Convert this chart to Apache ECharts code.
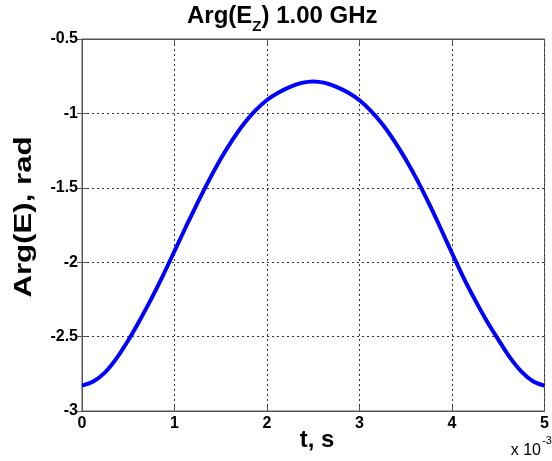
<!DOCTYPE html>
<html>
<head>
<meta charset="utf-8">
<script src="https://cdn.jsdelivr.net/npm/echarts@6/dist/echarts.min.js"></script>
<style>
html,body{margin:0;padding:0;background:#fff;}
#chart{width:552px;height:461px;}
</style>
</head>
<body>
<div id="chart"></div>
<script>
// time in units of 1e-3 s
var tValues = [0, 0.125, 0.25, 0.375, 0.5, 0.625, 0.75, 0.875, 1, 1.125, 1.25, 1.375, 1.5, 1.625, 1.75, 1.875, 2, 2.125, 2.25, 2.375, 2.5,
               2.625, 2.75, 2.875, 3, 3.125, 3.25, 3.375, 3.5, 3.625, 3.75, 3.875, 4, 4.125, 4.25, 4.375, 4.5, 4.625, 4.75, 4.875, 5];
var argValues = [-2.83, -2.80, -2.74, -2.645, -2.525, -2.39, -2.245, -2.09, -1.925, -1.76, -1.60, -1.447, -1.305, -1.18, -1.07, -0.98, -0.91, -0.86, -0.822, -0.795, -0.785,
                 -0.795, -0.822, -0.86, -0.912, -0.985, -1.075, -1.185, -1.31, -1.45, -1.605, -1.77, -1.94, -2.105, -2.255, -2.395, -2.52, -2.64, -2.735, -2.80, -2.83];
var xTicks = [0, 1, 2, 3, 4, 5];
var yTicks = [-3, -2.5, -2, -1.5, -1, -0.5];

var FONT = "'Liberation Sans', Arial, sans-serif";
var chart = echarts.init(document.getElementById('chart'), null, {renderer: 'canvas'});
var seriesData = tValues.map(function (t, i) { return [t, argValues[i]]; });

var axisCommon = {
  type: 'value',
  axisLine: {show: true, lineStyle: {color: '#555', width: 1}},
  axisTick: {show: true, inside: true, length: 5, lineStyle: {color: '#555'}},
  splitLine: {show: false}
};

chart.setOption({
  animation: false,
  backgroundColor: '#fff',
  grid: {left: 82, right: 1, top: 39, bottom: 50, containLabel: false,
         show: true, borderColor: '#555', borderWidth: 1},
  xAxis: [
    Object.assign({}, axisCommon, {
      min: xTicks[0], max: xTicks[xTicks.length - 1], interval: 1, position: 'bottom',
      axisLabel: {show: true, color: '#000', fontFamily: FONT, fontWeight: 'bold', fontSize: 16, margin: 5},
      splitLine: {show: true, lineStyle: {color: '#333', type: [2, 3], width: 1}}
    }),
    Object.assign({}, axisCommon, {
      min: xTicks[0], max: xTicks[xTicks.length - 1], interval: 1, position: 'top',
      axisLabel: {show: false}
    })
  ],
  yAxis: [
    Object.assign({}, axisCommon, {
      min: yTicks[0], max: yTicks[yTicks.length - 1], interval: 0.5, position: 'left',
      axisLabel: {show: true, color: '#000', fontFamily: FONT, fontWeight: 'bold', fontSize: 16, margin: 4},
      splitLine: {show: true, lineStyle: {color: '#333', type: [2, 3], width: 1}}
    }),
    Object.assign({}, axisCommon, {
      min: yTicks[0], max: yTicks[yTicks.length - 1], interval: 0.5, position: 'right',
      axisLabel: {show: false}
    })
  ],
  series: [{
    type: 'line',
    data: seriesData,
    xAxisIndex: 0, yAxisIndex: 0,
    smooth: 0.3,
    showSymbol: false,
    lineStyle: {color: '#0000ff', width: 4},
    itemStyle: {color: '#0000ff'},
    z: 5
  }],
  graphic: [
    {
      type: 'text', left: 187, top: 4,
      style: {
        text: '{m|Arg(E}{s|Z}{m|) 1.00 GHz}',
        rich: {
          m: {fontFamily: FONT, fontWeight: 'bold', fontSize: 24, fill: '#000', verticalAlign: 'top', lineHeight: 30},
          s: {fontFamily: FONT, fontWeight: 'bold', fontSize: 15, fill: '#000', verticalAlign: 'bottom', lineHeight: 30, padding: [14, 0, 0, 0]}
        }
      }
    },
    {
      type: 'text', x: 24, y: 217, rotation: Math.PI / 2, scaleX: 1.3, scaleY: 1,
      style: {text: 'Arg(E), rad', fontFamily: FONT, fontWeight: 'bold', fontSize: 24, fill: '#000',
              align: 'center', verticalAlign: 'middle'}
    },
    {
      type: 'text', x: 317, y: 440,
      style: {text: 't, s', fontFamily: FONT, fontWeight: 'bold', fontSize: 24, fill: '#000',
              align: 'center', verticalAlign: 'middle'}
    },
    {
      type: 'text', x: 541, y: 451,
      style: {text: 'x 10', fontFamily: FONT, fontSize: 16, fill: '#000', align: 'right', verticalAlign: 'middle'}
    },
    {
      type: 'text', x: 542, y: 441,
      style: {text: '-3', fontFamily: FONT, fontSize: 11, fill: '#000', align: 'left', verticalAlign: 'middle'}
    }
  ]
});
</script>
</body>
</html>
